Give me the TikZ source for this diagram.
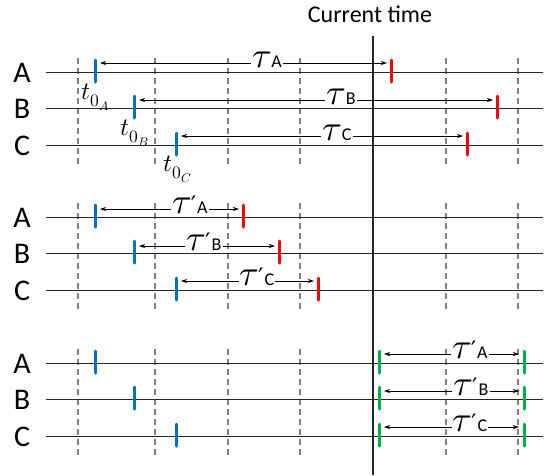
\documentclass[tikz,border=0pt]{standalone}
\usepackage{unicode-math}
\setmainfont{Carlito}
\setmathfont{Latin Modern Math}
\newfontfamily\primefont{DejaVu Sans}
\usetikzlibrary{arrows.meta}
\definecolor{tblue}{RGB}{0,112,192}
\definecolor{tred}{RGB}{255,0,0}
\definecolor{tgreen}{RGB}{0,176,80}
\newcommand\taulab[2]{{\fontsize{36}{36}\selectfont$\tau$}#1{\fontsize{18}{18}\selectfont #2}}
\newcommand\tauprime{\kern-1pt{\primefont\fontsize{24}{24}\selectfont ′}\kern1pt}
\begin{document}
\begin{tikzpicture}[x=1pt,y=-1pt,
  timeline/.style={line width=1pt,black!85},
  gridline/.style={line width=1.3pt,gray,dash pattern=on 6pt off 4pt},
  tickmark/.style={line width=3pt,line cap=round},
  dimarrow/.style={line width=0.7pt,-{Stealth[length=6pt,width=4pt]}},
  rowlab/.style={font=\fontsize{30}{30}\selectfont,inner sep=0pt},
  taulabel/.style={inner sep=1pt,anchor=base,text height=17pt,text depth=0pt},
  tlab/.style={inner sep=0pt,anchor=north,font=\fontsize{25}{25}\selectfont}]
\useasboundingbox (0,0) rectangle (553,475);

% grid lines
\foreach \ya/\yc in {72/145,217/290,363/436}{
  \foreach \x in {78,155,228,300,446,518}{
    \draw[gridline] (\x,\ya-14) -- (\x,\yc+19);
  }
}
% timelines
\foreach \y in {72,108,145,217,253,290,363,399,436}{
  \draw[timeline] (46,\y) -- (543,\y);
}
% current time
\node[font=\fontsize{24}{24}\selectfont,inner sep=0pt] (ct) at (370,14) {Current time};
\coordinate (ctbot) at (373,475);
\draw[line width=1.3pt,black!85] (373,36) -- (ctbot);

% row labels
\foreach \y/\l in {73/A,109/B,146/C,218/A,254/B,291/C,364/A,400/B,437/C}{
  \node[rowlab] at (22,\y) {\l};
}

% blue ticks
\foreach \ya/\yb/\yc in {72/108/145,217/253/290,363/399/436}{
  \draw[tickmark,tblue] (95,\ya-12) -- (95,\ya+10);
  \draw[tickmark,tblue] (134,\yb-12) -- (134,\yb+10);
  \draw[tickmark,tblue] (176,\yc-12) -- (176,\yc+10);
}
% red ticks
\draw[tickmark,tred] (391,60) -- (391,82);
\draw[tickmark,tred] (497,96) -- (497,118);
\draw[tickmark,tred] (467,133) -- (467,155);
\draw[tickmark,tred] (243,205) -- (243,227);
\draw[tickmark,tred] (279,241) -- (279,263);
\draw[tickmark,tred] (318,278) -- (318,300);
% green ticks
\foreach \y in {363,399,436}{
  \draw[tickmark,tgreen] (379,\y-12) -- (379,\y+10);
  \draw[tickmark,tgreen] (524,\y-12) -- (524,\y+10);
}

% t0 labels
\node[tlab] (t0a) at (96,84) {$t_{0_A}$};
\node[tlab] (t0b) at (135,120) {$t_{0_B}$};
\node[tlab] (t0c) at (178,156) {$t_{0_C}$};

% group 1 arrows
\node[taulabel] (g1A) at (267,67) {\taulab{}{A}};
\node[taulabel] (g1B) at (341,104) {\taulab{}{B}};
\node[taulabel] (g1C) at (337,140) {\taulab{}{C}};
\coordinate (g1Al) at (100,63); \coordinate (g1Ar) at (387,63);
\coordinate (g1Bl) at (139,100); \coordinate (g1Br) at (493,100);
\coordinate (g1Cl) at (181,136); \coordinate (g1Cr) at (463,136);
% group 2
\node[taulabel] (g2A) at (190,213) {\taulab{\tauprime}{A}};
\node[taulabel] (g2B) at (204,250) {\taulab{\tauprime}{B}};
\node[taulabel] (g2C) at (257,285) {\taulab{\tauprime}{C}};
\coordinate (g2Al) at (100,209); \coordinate (g2Ar) at (239,209);
\coordinate (g2Bl) at (139,246); \coordinate (g2Br) at (275,246);
\coordinate (g2Cl) at (181,281); \coordinate (g2Cr) at (314,281);
% group 3
\node[taulabel] (g3A) at (470,358) {\taulab{\tauprime}{A}};
\node[taulabel] (g3B) at (471,395) {\taulab{\tauprime}{B}};
\node[taulabel] (g3C) at (470,431) {\taulab{\tauprime}{C}};
\coordinate (g3Al) at (384,354); \coordinate (g3Ar) at (519,354);
\coordinate (g3Bl) at (384,391); \coordinate (g3Br) at (519,391);
\coordinate (g3Cl) at (384,427); \coordinate (g3Cr) at (519,427);

\foreach \g in {g1A,g1B,g1C,g2A,g2B,g2C,g3A,g3B,g3C}{
  \draw[dimarrow] (\g.west |- \g l) -- (\g l);
  \draw[dimarrow] (\g.east |- \g r) -- (\g r);
}
\end{tikzpicture}
\end{document}
